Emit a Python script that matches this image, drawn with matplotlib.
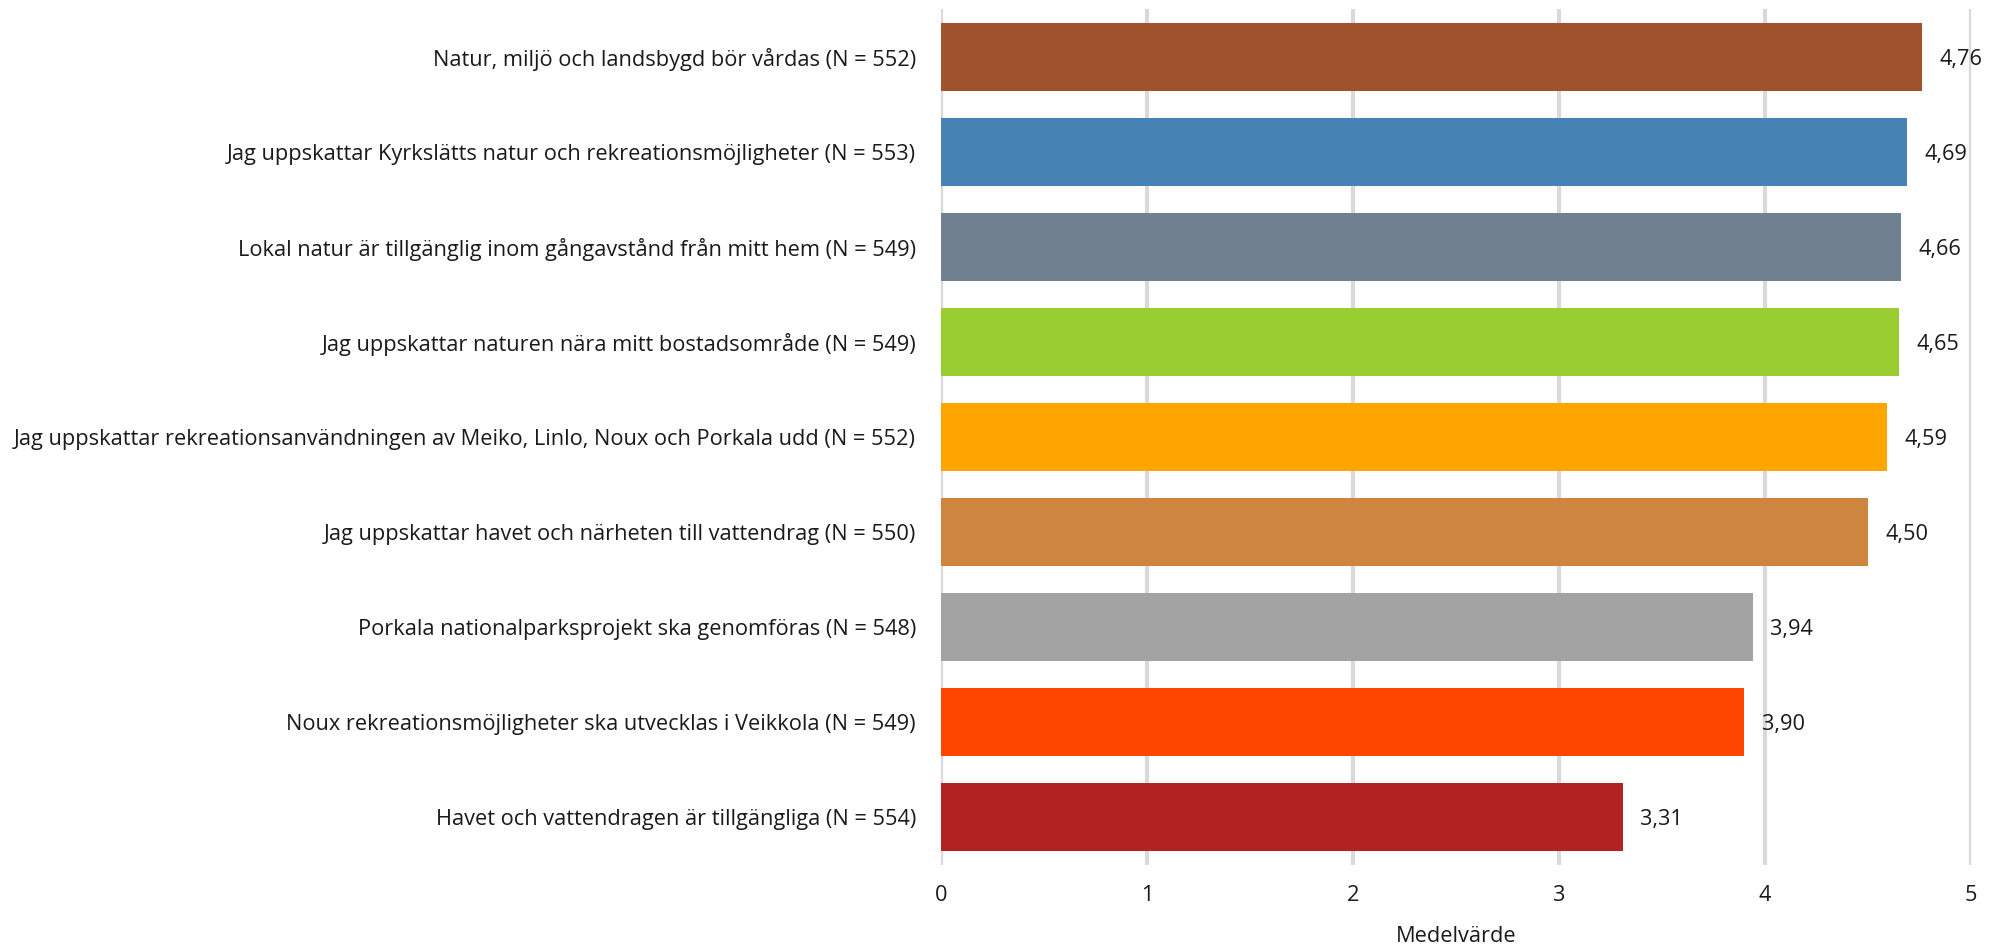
"""
Medelvärde per påstående (horisontellt stapeldiagram).
"""

import matplotlib
matplotlib.use("Agg")
import matplotlib.pyplot as plt

#####################################
# Data
#####################################

statements = [
    "Natur, miljö och landsbygd bör vårdas (N = 552)",
    "Jag uppskattar Kyrkslätts natur och rekreationsmöjligheter (N = 553)",
    "Lokal natur är tillgänglig inom gångavstånd från mitt hem (N = 549)",
    "Jag uppskattar naturen nära mitt bostadsområde (N = 549)",
    "Jag uppskattar rekreationsanvändningen av Meiko, Linlo, Noux och Porkala udd (N = 552)",
    "Jag uppskattar havet och närheten till vattendrag (N = 550)",
    "Porkala nationalparksprojekt ska genomföras (N = 548)",
    "Noux rekreationsmöjligheter ska utvecklas i Veikkola (N = 549)",
    "Havet och vattendragen är tillgängliga (N = 554)",
]
means = [4.76, 4.69, 4.66, 4.65, 4.59, 4.50, 3.94, 3.90, 3.31]
value_labels = ["4,76", "4,69", "4,66", "4,65", "4,59", "4,50", "3,94", "3,90", "3,31"]
xticks = [0, 1, 2, 3, 4, 5]

BAR_COLORS = [
    "#a0522d",  # sienna
    "#4682b4",  # steelblue
    "#708090",  # slategray
    "#9acd32",  # yellowgreen
    "#ffa500",  # orange
    "#cd853f",  # peru
    "#a3a3a3",  # gray
    "#ff4500",  # orangered
    "#b22222",  # firebrick
]

FONT = ["Open Sans", "DejaVu Sans"]
plt.rcParams["font.family"] = FONT
FS = 15.7

#####################################
# Plot
#####################################

fig = plt.figure(figsize=(20.07, 9.47), dpi=100)
ax = fig.add_axes([941 / 2007, 1 - 864.5 / 947, 1030 / 2007, 855 / 947])

y = list(range(len(statements)))
ax.barh(y, means, height=0.72, color=BAR_COLORS, zorder=3)

for yi, v, lab in zip(y, means, value_labels):
    ax.text(v + 0.085, yi + 0.03, lab, va="center", ha="left", fontsize=FS, color="#1a1a1a")

ax.set_ylim(len(statements) - 0.5, -0.5)
ax.set_xlim(0, 5)
ax.set_yticks(y)
ax.set_yticklabels(statements, fontsize=FS, color="#1a1a1a")
ax.set_xticks(xticks)
ax.set_xticklabels([str(t) for t in xticks], fontsize=FS, color="#1a1a1a")
ax.tick_params(axis="y", length=0, pad=18)
ax.tick_params(axis="x", length=0, pad=15)
ax.set_xlabel("Medelvärde", fontsize=FS, color="#1a1a1a", labelpad=14)

ax.grid(axis="x", color="#d9d9d9", linewidth=3, zorder=0)
for s in ax.spines.values():
    s.set_visible(False)

fig.savefig("out.png", dpi=100)
